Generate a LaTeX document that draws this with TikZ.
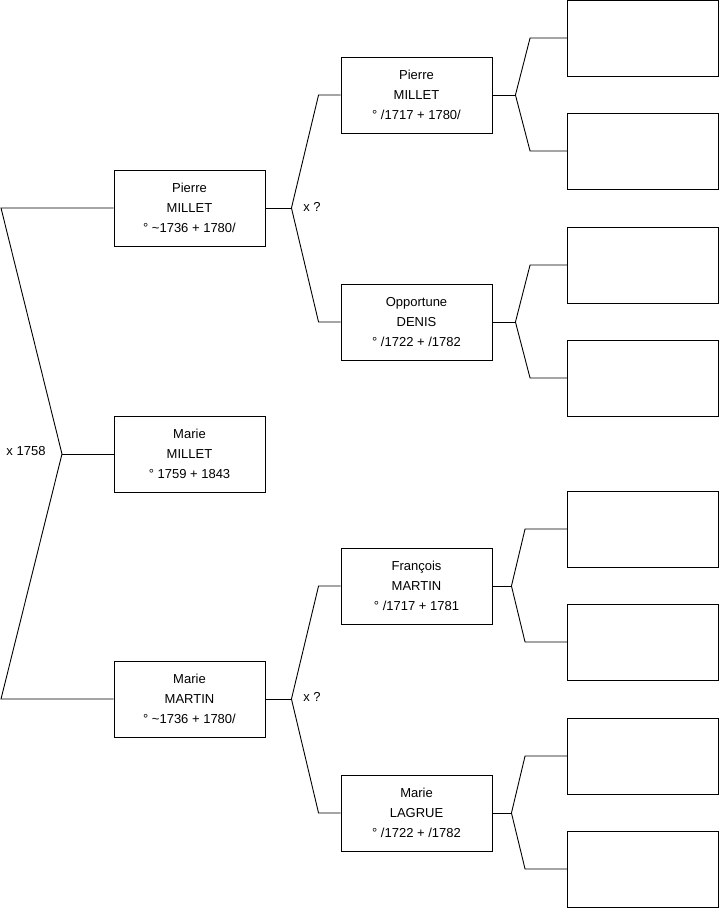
\documentclass[tikz,border=0pt]{standalone}
\usepackage{fontspec}
\setmainfont{Liberation Sans}
\usetikzlibrary{calc}
\tikzset{
  person/.style = {draw, line width=0.9pt, rectangle, minimum width=151pt,
                   minimum height=76pt, inner sep=0pt, align=center,
                   text depth=0.7pt, font=\fontsize{13}{20}\selectfont},
  emptybox/.style = {draw, line width=0.9pt, rectangle, minimum width=151pt,
                   minimum height=76pt, inner sep=0pt},
  link/.style   = {line width=0.9pt},
  note/.style   = {font=\fontsize{13}{15}\selectfont, inner sep=0pt},
}
\begin{document}
\begin{tikzpicture}[x=1pt,y=-1pt]
\useasboundingbox (0,0) rectangle (719,908);
% first and second generation
\node[person] (p1) at (189.5,208) {Pierre\\MILLET\\° \textasciitilde1736 + 1780/};
\node[person] (m0) at (189.5,454) {Marie\\MILLET\\° 1759 + 1843};
\node[person] (m1) at (189.5,699) {Marie\\MARTIN\\° \textasciitilde1736 + 1780/};
\node[person] (p2) at (416.5,95)  {Pierre\\MILLET\\° /1717 + 1780/};
\node[person] (o2) at (416.5,322) {Opportune\\DENIS\\° /1722 + /1782};
\node[person] (f2) at (416.5,586) {François\\MARTIN\\° /1717 + 1781};
\node[person] (l2) at (416.5,813) {Marie\\LAGRUE\\° /1722 + /1782};
% third generation, left blank
\foreach \n/\y in {ga/38,gb/151,gc/265,gd/378,ge/529,gf/642,gg/756,gh/869}
  \node[emptybox] (\n) at (643,\y) {};

% couple of the root
\coordinate (top0) at (1,208);
\coordinate (bot0) at (1,699);
\coordinate (v0) at (62,454);
\draw[link] (p1.west) -- (top0) -- (v0) -- (bot0) -- (m1.west);
\draw[link] (m0.west) -- (v0);
\node[note] (x0) at (26,451) {x 1758};

% forks to the parents
\foreach \pa/\up/\dn/\v/\b in {p1/p2/o2/26/22, m1/f2/l2/26/22,
    p2/ga/gb/23/37, o2/gc/gd/23/37, f2/ge/gf/19/42, l2/gg/gh/19/42} {
  \draw[link] (\up.west) -- ++(-\b,0) -- ($(\pa.east)+(\v,0)$) coordinate (v\pa)
     -- ($(\dn.west)+(-\b,0)$) -- (\dn.west);
  \draw[link] (\pa.east) -- (v\pa);
}
\node[note] (x1) at (312,207) {x ?};
\node[note] (x2) at (312,697) {x ?};
\end{tikzpicture}
\end{document}
